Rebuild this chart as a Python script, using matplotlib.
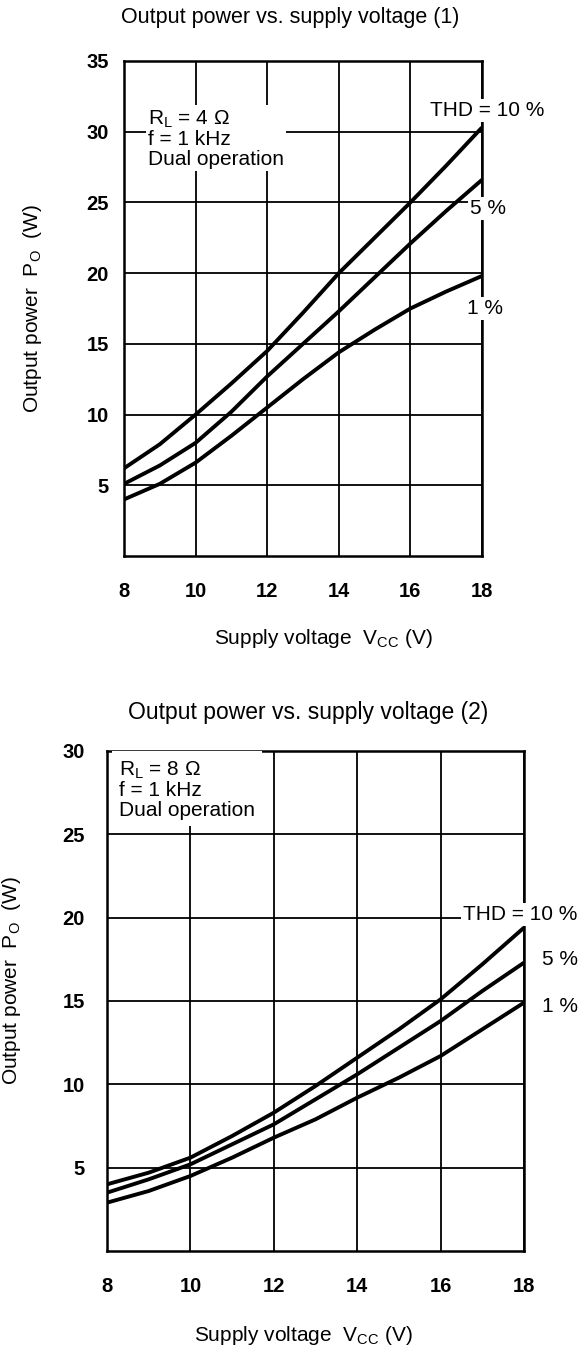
import numpy as np
import matplotlib
matplotlib.use("Agg")
import matplotlib.pyplot as plt

plt.rcParams["font.family"] = ["Liberation Sans", "DejaVu Sans"]
plt.rcParams["mathtext.fontset"] = "custom"
plt.rcParams["mathtext.rm"] = "Liberation Sans"

# supply voltage (V)
vcc = [8, 9, 10, 11, 12, 13, 14, 15, 16, 17, 18]

# chart 1: RL = 4 ohm
po4_thd10 = [6.2, 7.9, 10.0, 12.2, 14.5, 17.2, 20.0, 22.5, 25.0, 27.6, 30.3]
po4_thd5 = [5.1, 6.4, 8.0, 10.2, 12.7, 15.0, 17.3, 19.7, 22.1, 24.4, 26.6]
po4_thd1 = [4.0, 5.1, 6.6, 8.5, 10.5, 12.5, 14.4, 16.0, 17.5, 18.7, 19.8]

# chart 2: RL = 8 ohm
po8_thd10 = [4.0, 4.7, 5.6, 6.9, 8.3, 9.9, 11.6, 13.3, 15.1, 17.2, 19.4]
po8_thd5 = [3.5, 4.3, 5.2, 6.4, 7.6, 9.1, 10.6, 12.2, 13.8, 15.6, 17.3]
po8_thd1 = [2.9, 3.6, 4.5, 5.6, 6.8, 7.9, 9.2, 10.4, 11.7, 13.3, 14.9]

xticks = [8, 10, 12, 14, 16, 18]
yticks1 = [5, 10, 15, 20, 25, 30, 35]
yticks2 = [5, 10, 15, 20, 25, 30]

W, H = 584, 1353
fig = plt.figure(figsize=(W / 100, H / 100), dpi=100)

FS = 15  # body text size


def make_axes(l, t, r, b):
    return fig.add_axes([l / W, 1 - b / H, (r - l) / W, (b - t) / H])


def style(ax, ymax, yticks, ypad):
    ax.set_xlim(8, 18)
    ax.set_ylim(0, ymax)
    ax.set_xticks(xticks)
    ax.set_yticks(yticks)
    ax.set_xticklabels([str(v) for v in xticks], fontsize=14.5, fontweight="bold")
    ax.set_yticklabels([str(v) for v in yticks], fontsize=14.5, fontweight="bold")
    ax.tick_params(length=0)
    ax.tick_params(axis="x", pad=19)
    ax.tick_params(axis="y", pad=ypad)
    ax.grid(True, color="black", linewidth=1.3)
    ax.set_axisbelow(True)
    for s in ax.spines.values():
        s.set_linewidth(1.8)
        s.set_zorder(1)


box = dict(facecolor="white", edgecolor="none", pad=1.5)

# ---- chart 1
ax1 = make_axes(124, 61, 482, 556)
style(ax1, 35, yticks1, 11)
for ys in [po4_thd10, po4_thd5, po4_thd1]:
    ax1.plot(vcc, ys, color="black", linewidth=2.8, solid_capstyle="butt", zorder=3)
ax1.text(8.67, 31.65, "R$_\\mathrm{L}$ = 4 Ω\nf = 1 kHz\nDual operation", fontsize=FS,
         va="top", ha="left", linespacing=1.02, bbox=box, zorder=4)
ax1.text(16.55, 31.5, "THD = 10 %", fontsize=FS, va="center", ha="left", bbox=box, zorder=4, clip_on=False)
ax1.text(17.66, 24.6, "5 %", fontsize=FS, va="center", ha="left", bbox=box, zorder=4, clip_on=False)
ax1.text(17.58, 17.5, "1 %", fontsize=FS, va="center", ha="left", bbox=box, zorder=4, clip_on=False)
ax1.set_xlabel("Supply voltage  V$_\\mathrm{CC}$ (V)", fontsize=FS)
ax1.xaxis.set_label_coords(0.556, -0.143)
ax1.set_ylabel("Output power  P$_\\mathrm{O}$  (W)", fontsize=FS)
ax1.yaxis.set_label_coords(-0.223, 0.5)
fig.text(290 / W, 1 - 17 / H, "Output power vs. supply voltage (1)", fontsize=15.5,
         ha="center", va="center")

# ---- chart 2
ax2 = make_axes(107, 751, 524, 1251)
style(ax2, 30, yticks2, 16)
for ys in [po8_thd10, po8_thd5, po8_thd1]:
    ax2.plot(vcc, ys, color="black", linewidth=2.8, solid_capstyle="butt", zorder=3)
ax2.text(8.29, 29.5, "R$_\\mathrm{L}$ = 8 Ω\nf = 1 kHz\nDual operation", fontsize=FS,
         va="top", ha="left", linespacing=1.02,
         bbox=dict(facecolor="white", edgecolor="none", pad=5), zorder=4)
ax2.text(16.54, 20.2, "THD = 10 %", fontsize=FS, va="center", ha="left", bbox=box, zorder=4, clip_on=False)
ax2.text(18.43, 17.5, "5 %", fontsize=FS, va="center", ha="left", bbox=box, zorder=4, clip_on=False)
ax2.text(18.43, 14.7, "1 %", fontsize=FS, va="center", ha="left", bbox=box, zorder=4, clip_on=False)
ax2.set_xlabel("Supply voltage  V$_\\mathrm{CC}$ (V)", fontsize=FS)
ax2.xaxis.set_label_coords(0.472, -0.146)
ax2.set_ylabel("Output power  P$_\\mathrm{O}$  (W)", fontsize=FS)
ax2.yaxis.set_label_coords(-0.201, 0.54)
fig.text(308 / W, 1 - 713 / H, "Output power vs. supply voltage (2)", fontsize=16.5,
         ha="center", va="center")

fig.savefig("out.png", dpi=100, facecolor="white")
